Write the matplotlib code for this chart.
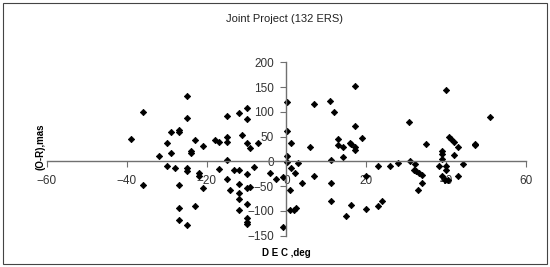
import matplotlib
matplotlib.use('Agg')
import matplotlib.pyplot as plt
from matplotlib.patches import Rectangle

plt.rcParams['font.family'] = ['Liberation Sans', 'DejaVu Sans']

# DEC (deg) and (O-R) residuals (mas)
dec = [-38.8, -35.8, -35.8, -32.0, -29.8, -29.8, -29.0, -29.0, -27.9, -26.8,
       -26.8, -26.8, -26.8, -26.8, -24.8, -24.8, -24.8, -24.8, -24.8, -23.8,
       -23.8, -23.0, -23.0, -21.9, -21.9, -20.8, -20.8, -17.8, -17.0, -17.0,
       -14.9, -14.9, -14.9, -14.9, -14.9, -14.0, -13.0, -11.9, -11.9, -11.1,
       -11.9, -11.9, -11.9, -11.9, -9.9, -9.9, -9.9, -9.9, -9.9, -9.0,
       -9.9, -9.9, -9.9, -9.9, -9.0, -8.0, -7.0, -4.0, -2.7, -0.8,
       -0.9, 0.1, 0.1, 0.1, 0.1, 1.1, 1.1, 2.9, 2.2, 0.9,
       0.9, 1.9, 2.4, 4.0, 6.9, 5.9, 7.0, 11.0, 11.9, 11.1,
       11.1, 11.1, 13.0, 13.0, 14.1, 14.1, 15.9, 16.2, 17.1, 17.1,
       17.1, 17.1, 19.0, 14.9, 16.1, 20.0, 20.0, 23.0, 23.0, 23.9,
       26.0, 28.0, 30.7, 31.0, 32.1, 31.9, 32.5, 33.2, 34.0, 33.9,
       32.9, 35.0, 38.9, 38.9, 38.9, 38.1, 38.9, 39.7, 40.4, 40.0,
       40.0, 40.0, 40.8, 41.2, 41.9, 41.9, 42.9, 42.9, 44.1, 47.1,
       47.1, 51.0]
o_r = [45, 99, -47, 10, 37, -10, 59, 18, -13, 63,
       59, -47, -93, -119, 132, 88, -14, -19, -128, 22,
       18, 43, -89, -23, -30, 32, -54, 43, 39, -15,
       92, 49, 40, 3, -36, -58, -17, -17, 98, 54,
       -45, -64, -76, -98, 107, 85, 37, -26, -53, -51,
       -85, -114, -122, -126, 27, -11, 37, -24, -36, -31,
       -133, 120, 61, 10, -2, 37, -13, -3, -24, -57,
       -99, -97, -94, -43, -30, 29, 115, 122, 100, 3,
       -44, -80, 45, 34, 30, 9, 38, 36, 153, 72,
       30, 24, 47, -110, -87, -30, -95, -9, -90, -80,
       -10, -4, 79, 0, -6, -17, -20, -24, -28, -44,
       -57, 36, 21, 16, 4, -10, -30, -37, -38, -9,
       -17, 144, 49, 46, 40, 12, 29, -29, -5, 35,
       33, 89]

xticks = [-60, -40, -20, 0, 20, 40, 60]
yticks = [-150, -100, -50, 0, 50, 100, 150, 200]

fig = plt.figure(figsize=(5.5, 2.67), dpi=100)
ax = fig.add_axes([0.085, 0.117, 0.8715, 0.6495])

ax.plot(dec, o_r, 'D', color='black', markersize=3.2, markeredgewidth=0.6)

ax.set_xlim(-60, 60)
ax.set_ylim(-150, 200)
ax.set_xticks(xticks)
ax.set_yticks(yticks)

for s in ['top', 'right']:
    ax.spines[s].set_visible(False)
ax.spines['left'].set_position(('data', 0))
ax.spines['bottom'].set_position(('data', 0))
for s in ['left', 'bottom']:
    ax.spines[s].set_color('#707070')
    ax.spines[s].set_linewidth(1.0)
ax.tick_params(colors='#707070', labelcolor='#333333', labelsize=8.5,
               length=4, direction='out')
ax.tick_params(axis='x', pad=6)
ax.tick_params(axis='y', pad=5)

fig.text(0.52, 0.052, 'D E C ,deg', fontsize=7, fontweight='bold',
         ha='center', va='center')
fig.text(0.073, 0.45, '(O-R),mas', rotation=90, fontsize=7,
         fontweight='bold', ha='center', va='center')

fig.text(0.517, 0.93, 'Joint Project (132 ERS)', fontsize=8,
         ha='center', va='center', color='#222222')

fig.patches.append(Rectangle((0.005, 0.01), 0.99, 0.98, fill=False,
                             edgecolor='#444444', linewidth=0.8,
                             transform=fig.transFigure))

fig.savefig('out.png', dpi=100)
